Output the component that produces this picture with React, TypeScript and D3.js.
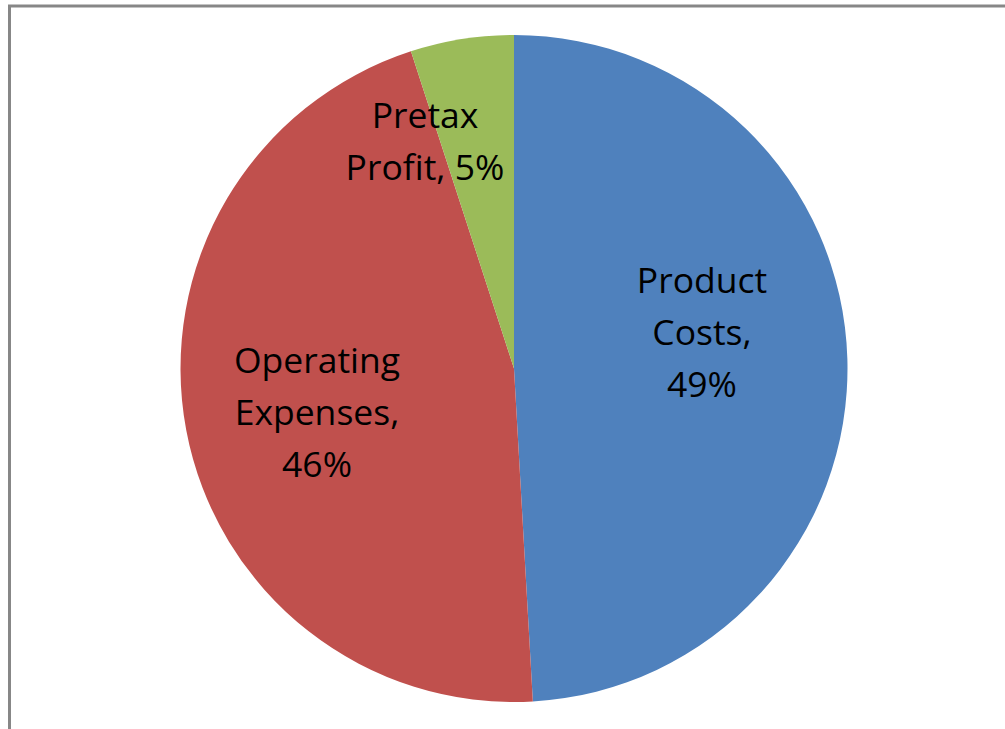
import React from "react";
import * as d3 from "d3";

const categories = ["Product Costs", "Operating Expenses", "Pretax Profit"];
const values = [49.1, 45.9, 5.0];
const percentLabels = ["49%", "46%", "5%"];
const labelLines = [
  ["Product", "Costs,", "49%"],
  ["Operating", "Expenses,", "46%"],
  ["Pretax", "Profit, 5%"],
];
const colors = ["#4F81BD", "#C0504D", "#9BBB59"];

const W = 1005;
const H = 729;
const CX = 514;
const CY = 368.5;
const R = 333.5;
const LINE_GAP = 52;
// label anchor (center x, first baseline y) relative to pie center
const labelOffsets: [number, number][] = [
  [188, -76],
  [-197, 4.5],
  [-89, -240.5],
];

export default function App() {
  const pie = d3
    .pie<number>()
    .sort(null)
    .value((d) => d);
  const arcs = pie(values);
  const arc = d3.arc<d3.PieArcDatum<number>>().innerRadius(0).outerRadius(R);

  return (
    <svg
      width={W}
      height={H}
      style={{ position: "absolute", left: 0, top: 0, background: "#fff" }}
    >
      <rect x={0} y={0} width={W} height={H} fill="#fff" />
      <path
        d={`M9.5,${H + 5} L9.5,6 L${W + 5},6`}
        fill="none"
        stroke="#878787"
        strokeWidth={3}
      />
      <g transform={`translate(${CX},${CY})`}>
        {arcs.map((a, i) => (
          <path key={categories[i]} d={arc(a) || ""} fill={colors[i]} />
        ))}
        {arcs.map((a, i) => (
          <text
            key={"t" + i}
            textAnchor="middle"
            fontFamily="'Open Sans', sans-serif"
            fontSize={35.5}
            fill="#000"
          >
            {labelLines[i].map((line, j) => (
              <tspan
                key={j}
                x={labelOffsets[i][0]}
                y={labelOffsets[i][1] + j * LINE_GAP}
              >
                {line}
              </tspan>
            ))}
          </text>
        ))}
      </g>
    </svg>
  );
}
